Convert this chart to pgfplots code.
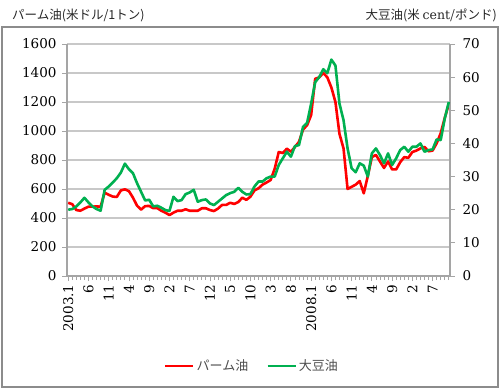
\documentclass[border=0pt]{standalone}
\usepackage{pgfplots}
\pgfplotsset{compat=1.18}
\usepackage{pgfplotstable}
\usepackage{fontspec}
\setmainfont{DejaVu Serif}
\newfontfamily\numfont{DejaVu Serif}
\newfontfamily\jp{Noto Sans CJK JP}
\definecolor{palmc}{RGB}{255,0,0}
\definecolor{soyc}{RGB}{0,176,80}
\definecolor{gridc}{RGB}{200,200,200}
\definecolor{axc}{RGB}{165,165,165}
\definecolor{framec}{RGB}{140,140,140}

\pgfplotstableread{
m palm soy
0 505 20.0
1 495 20.2
2 455 21.0
3 450 22.2
4 465 23.6
5 478 22.2
6 478 21.0
7 480 20.2
8 478 19.7
9 575 26.0
10 560 27.0
11 548 28.2
12 545 29.5
13 590 31.2
14 598 33.9
15 585 32.2
16 540 31.0
17 485 28.0
18 458 25.4
19 482 22.8
20 483 23.0
21 468 21.0
22 468 21.2
23 450 20.6
24 437 19.9
25 420 19.6
26 437 23.9
27 450 22.6
28 450 22.9
29 460 24.7
30 450 25.2
31 450 26.0
32 450 22.4
33 467 22.9
34 467 23.1
35 455 21.9
36 448 21.4
37 465 22.4
38 490 23.4
39 490 24.4
40 505 25.0
41 497 25.4
42 510 26.6
43 540 25.4
44 525 24.6
45 547 24.7
46 590 27.0
47 605 28.5
48 630 28.5
49 645 29.5
50 662 30.0
51 740 30.0
52 855 33.5
53 848 35.5
54 878 37.5
55 857 36.0
56 890 39.2
57 925 39.5
58 1010 45.0
59 1040 46.2
60 1110 52.0
61 1360 58.5
62 1370 60.0
63 1400 62.4
64 1370 61.2
65 1300 65.3
66 1200 63.5
67 980 52.0
68 880 47.0
69 600 38.5
70 615 32.5
71 630 31.3
72 655 34.0
73 570 33.3
74 690 30.0
75 820 37.0
76 835 38.5
77 790 36.5
78 745 34.0
79 790 37.0
80 735 33.5
81 735 35.5
82 785 38.0
83 820 39.0
84 815 37.5
85 855 39.0
86 865 39.0
87 880 40.0
88 890 37.5
89 860 38.0
90 865 38.2
91 915 41.2
92 985 41.0
93 1090 47.5
94 1185 52.5
}\data

\begin{document}
\begin{tikzpicture}
\useasboundingbox (0bp,0bp) rectangle (500bp,390bp);
\draw[framec, line width=1.2bp] (2bp,3bp) rectangle (498bp,363bp);
\node[anchor=west, inner sep=0pt, text=black!85, font=\jp\fontsize{12.5bp}{14bp}\selectfont] at (12bp,375bp) {パーム油(米ドル/1トン)};
\node[anchor=east, inner sep=0pt, text=black!85, font=\jp\fontsize{12.5bp}{14bp}\selectfont] at (497bp,375bp) {大豆油(米 {\numfont cent}/ポンド)};

\begin{axis}[
  at={(67bp,114bp)}, anchor=south west,
  width=383bp, height=232bp, scale only axis,
  xmin=-0.3, xmax=94.3, ymin=0, ymax=1600,
  axis x line*=bottom, axis y line*=left,
  axis line style={axc, line width=1.2bp},
  xtick={0,5,...,90},
  xticklabels={2003.1,6,11,4,9,2,7,12,5,10,3,8,2008.1,6,11,4,9,2,7},
  minor xtick={0,1,...,94},
  ytick={0,200,...,1600},
  ymajorgrids, grid style={gridc, line width=1.6bp},
  tick align=outside,
  major tick length=5bp, minor tick length=4bp,
  tick style={axc, line width=0.8bp},
  /pgf/number format/assume math mode=true,
  /pgf/number format/1000 sep={},
  ticklabel style={font=\numfont\fontsize{13.5bp}{15bp}\selectfont, text=black},
  yticklabel style={xshift=-2bp},
  xticklabel style={rotate=90, anchor=east},
  legend style={at={(0.483,-0.388)}, anchor=center, draw=none, fill=none,
    legend columns=2, font=\jp\fontsize{13bp}{15bp}\selectfont, text=black!70,
    /tikz/every even column/.append style={column sep=16bp}},
  legend image code/.code={\draw[#1] (0bp,0bp) -- (28bp,0bp);},
]
\addplot[palmc, line width=2.6bp, line join=round] table[x=m,y=palm]{\data};
\addlegendentry{パーム油}
\addlegendimage{soyc, line width=2.6bp}
\addlegendentry{大豆油}
\end{axis}

\begin{axis}[
  at={(67bp,114bp)}, anchor=south west,
  width=383bp, height=232bp, scale only axis,
  xmin=-0.3, xmax=94.3, ymin=0, ymax=70,
  axis y line*=right, axis x line=none,
  axis line style={axc, line width=1.2bp},
  ytick={0,10,...,70},
  tick align=outside, major tick length=5bp,
  tick style={axc, line width=0.8bp},
  /pgf/number format/assume math mode=true,
  ticklabel style={font=\numfont\fontsize{13.5bp}{15bp}\selectfont, text=black},
  yticklabel style={xshift=4bp},
]
\addplot[soyc, line width=2.6bp, line join=round] table[x=m,y=soy]{\data};
\end{axis}
\end{tikzpicture}
\end{document}
